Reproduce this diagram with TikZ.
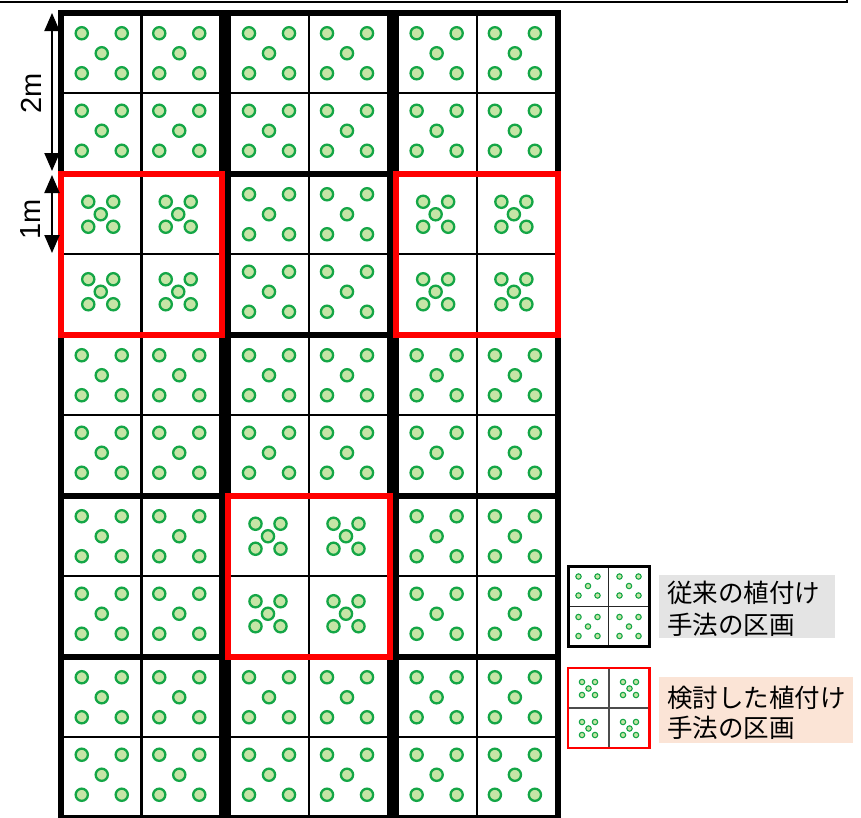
\documentclass[tikz,border=0pt]{standalone}
\usepackage{fontspec}
\setmainfont{Liberation Sans}
\newfontfamily\jpfont{Noto Sans CJK JP}
\usetikzlibrary{arrows.meta}
\definecolor{dotline}{HTML}{14A646}
\definecolor{dotfill}{HTML}{C6E5A6}
\definecolor{redb}{HTML}{FF0000}
\definecolor{graybox}{HTML}{E4E4E4}
\definecolor{peach}{HTML}{FBE4D6}
\tikzset{
  plantdot/.style={draw=dotline, fill=dotfill, line width=2.3pt},
  legdot/.style={draw=dotline, fill=dotfill, line width=1.1pt},
  thinline/.style={draw=black, line width=2.2pt},
  thickline/.style={draw=black, line width=6pt},
  redline/.style={draw=redb, line width=6pt},
  legtext/.style={anchor=west, inner sep=0pt, font=\jpfont\fontsize{25.5}{25.5}\selectfont},
  dimtext/.style={rotate=90, inner sep=0pt, font=\fontsize{29}{29}\selectfont},
  dimarrow/.style={line width=2pt, {Triangle[width=15pt,length=18pt]}-{Triangle[width=15pt,length=18pt]}}
}
\begin{document}
\begin{tikzpicture}[x=1pt,y=-1pt]
\useasboundingbox (0,0) rectangle (861,817);
\fill[white] (0,0) rectangle (861,817);
% top rule (edge of a box above)
\coordinate (tl) at (0,2);
\coordinate (tr) at (847,2);
\coordinate (tu) at (847,-3);
\draw[line width=2.5pt] (tl) -- (tr) -- (tu);
% grid
\foreach \c/\L/\R in {0/61/222,1/228/390,2/395.5/558}{
  \pgfmathsetmacro\M{(\L+\R)/2}
  \draw[thinline] (\M,12.5) -- (\M,817.5);
  \foreach \r in {0,...,4}{
    \pgfmathsetmacro\T{12.5+161*\r}
    \pgfmathsetmacro\H{\T+80.5}
    \draw[thinline] (\L,\H) -- (\R,\H);
    \pgfmathtruncatemacro\isred{and(\r==1,\c!=1)+and(\r==3,\c==1)}
    \pgfmathsetmacro\s{\isred==1 ? 12.5 : 20}
    \pgfmathsetmacro\off{\isred==1 ? -2 : -1}
    \foreach \i in {0,1}{
      \foreach \j in {0,1}{
        \pgfmathsetmacro\cx{\L+3+(\i+0.5)*(\R-\L-6)/2+\off}
        \pgfmathsetmacro\cy{\T+3+(\j+0.5)*77.5-1}
        \foreach \dx/\dy in {-1/-1,1/-1,0/0,-1/1,1/1}
          \draw[plantdot] (\cx+\s*\dx,\cy+\s*\dy) circle[radius=6.1pt];
      }
    }
  }
  \draw[thickline] (\L,12.5) rectangle (\R,817.5);
  \foreach \r in {1,...,4}{
    \pgfmathsetmacro\T{12.5+161*\r}
    \draw[thickline] (\L,\T) -- (\R,\T);
  }
}
% red (proposed) blocks
\draw[redline] (61,173.5) rectangle (222,334.5);
\draw[redline] (395.5,173.5) rectangle (558,334.5);
\draw[redline] (228,495.5) rectangle (390,656.5);
% dimension arrows
\coordinate (d2a) at (52,13);
\coordinate (d2b) at (52,171);
\coordinate (d1a) at (52,175);
\coordinate (d1b) at (52,253);
\draw[dimarrow] (d2a) -- (d2b);
\draw[dimarrow] (d1a) -- (d1b);
\node[dimtext] (t2m) at (31,93) {2m};
\node[dimtext] (t1m) at (31,219) {1m};
% legend: conventional
\draw[line width=1.8pt, draw=black!85] (608.5,566.5) -- (608.5,646.5) (568,606.5) -- (649,606.5);
\foreach \cx in {588,629}{
  \foreach \cy in {586,626.5}{
    \foreach \dx/\dy in {-1/-1,1/-1,0/0,-1/1,1/1}
      \draw[legdot] (\cx+9.5*\dx,\cy+9.5*\dy) circle[radius=2.7pt];
  }
}
\draw[line width=3pt] (568,566.5) rectangle (649,646.5);
\fill[graybox] (659,575) rectangle (835,638);
\node[legtext] (l1a) at (667,593) {従来の植付け};
\node[legtext] (l1b) at (667,625) {手法の区画};
% legend: proposed
\draw[line width=1.8pt, draw=black!70] (609,668) -- (609,748) (568,708) -- (649.5,708);
\foreach \cx in {588.5,629.5}{
  \foreach \cy in {688.5,728.5}{
    \foreach \dx/\dy in {-1/-1,1/-1,0/0,-1/1,1/1}
      \draw[legdot] (\cx+6.5*\dx,\cy+6.5*\dy) circle[radius=2.7pt];
  }
}
\draw[redline, line width=2.5pt] (568,668) rectangle (649.5,748);
\fill[peach] (659,677) rectangle (853,743);
\node[legtext] (l2a) at (667,698) {検討した植付け};
\node[legtext] (l2b) at (667,728) {手法の区画};
\end{tikzpicture}
\end{document}
